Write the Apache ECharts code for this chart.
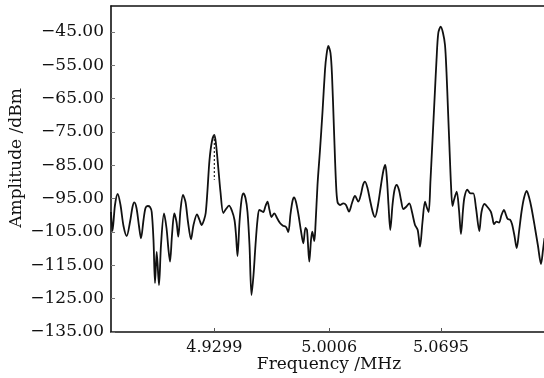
<!DOCTYPE html>
<html>
<head>
<meta charset="utf-8">
<script src="https://cdn.jsdelivr.net/npm/echarts@6/dist/echarts.min.js"></script>
<style>
html,body{margin:0;padding:0;background:#fff;}
#chart{width:544px;height:378px;}
</style>
</head>
<body>
<div id="chart"></div>
<script>
// Frequency (MHz) and amplitude (dBm)
var freq = [4.86626,4.86718,4.86872,4.87039,4.87211,4.87396,4.87593,4.87796,4.87950,4.88061,
4.88196,4.88350,4.88474,4.88628,4.88751,4.88886,4.89028,4.89133,4.89243,4.89336,
4.89440,4.89582,4.89705,4.89890,4.90044,4.90167,4.90260,4.90383,4.90524,4.90660,
4.90771,4.90906,4.91060,4.91214,4.91368,4.91553,4.91707,4.91922,4.92076,4.92212,
4.92353,4.92458,4.92569,4.92692,4.92846,4.92990,4.93092,4.93234,4.93369,4.93542,
4.93708,4.93893,4.94078,4.94232,4.94324,4.94416,4.94540,4.94663,4.94774,4.94909,
4.95032,4.95155,4.95279,4.95402,4.95525,4.95648,4.95759,4.95894,4.96005,4.96141,
4.96264,4.96387,4.96510,4.96683,4.96849,4.97034,4.97218,4.97403,4.97545,4.97680,
4.97804,4.97896,4.98019,4.98173,4.98327,4.98469,4.98604,4.98697,4.98838,4.98943,
4.99023,4.99146,4.99220,4.99343,4.99497,4.99651,4.99805,4.99897,5.00008,5.00144,
5.00236,5.00359,5.00482,5.00575,5.00729,5.00932,5.01098,5.01283,5.01468,5.01653,
5.01856,5.02022,5.02145,5.02268,5.02422,5.02576,5.02761,5.02884,5.03069,5.03254,
5.03408,5.03519,5.03623,5.03716,5.03826,5.03962,5.04085,5.04221,5.04362,5.04485,
5.04627,5.04793,5.04997,5.05163,5.05348,5.05514,5.05656,5.05809,5.05963,5.06087,
5.06191,5.06302,5.06395,5.06487,5.06579,5.06672,5.06782,5.06930,5.07072,5.07195,
5.07287,5.07380,5.07472,5.07565,5.07657,5.07749,5.07916,5.08057,5.08180,5.08304,
5.08396,5.08568,5.08766,5.08938,5.09104,5.09307,5.09443,5.09628,5.09812,5.10016,
5.10120,5.10213,5.10367,5.10521,5.10675,5.10829,5.10952,5.11056,5.11198,5.11321,
5.11475,5.11611,5.11752,5.11906,5.12060,5.12227,5.12368,5.12522,5.12738,5.12922,
5.13107,5.13230,5.13323];
var amplitude = [-99.0,-104.7,-96.9,-93.6,-96.9,-103.2,-106.2,-102.0,-97.5,-96.1,
-97.8,-103.2,-106.9,-101.4,-97.8,-97.2,-97.5,-99.0,-107.4,-120.3,
-111.0,-120.9,-108.9,-99.4,-103.8,-110.4,-113.9,-105.9,-99.4,-102.0,
-106.4,-98.4,-93.9,-96.0,-102.0,-107.2,-102.9,-99.7,-101.4,-102.9,
-101.4,-99.3,-92.4,-83.4,-77.7,-75.9,-78.6,-85.8,-93.0,-99.3,
-98.1,-97.1,-98.7,-101.4,-105.9,-112.2,-102.0,-95.4,-93.4,-94.8,
-99.0,-108.9,-123.9,-117.9,-108.9,-101.4,-98.4,-98.7,-99.0,-97.2,
-95.9,-98.4,-100.5,-99.4,-100.8,-102.3,-103.1,-103.5,-105.0,-99.6,
-95.7,-94.6,-96.0,-99.9,-104.7,-108.4,-103.8,-104.4,-113.9,-107.4,
-104.9,-107.7,-102.9,-90.9,-80.4,-69.0,-56.4,-51.9,-49.2,-51.3,
-57.9,-74.4,-90.3,-96.0,-96.9,-96.4,-96.9,-98.9,-96.3,-94.2,
-95.9,-93.6,-90.9,-89.9,-91.8,-95.4,-99.3,-100.5,-96.9,-90.9,
-86.4,-84.9,-89.4,-96.9,-104.4,-96.9,-92.4,-90.9,-92.4,-95.4,
-98.1,-97.5,-96.4,-99.0,-102.9,-104.4,-109.4,-102.0,-95.9,-97.8,
-99.0,-89.4,-80.4,-71.4,-62.4,-53.4,-45.3,-43.4,-45.3,-48.9,
-57.0,-68.4,-79.8,-90.9,-97.2,-95.4,-92.9,-98.4,-105.6,-98.4,
-94.5,-92.3,-93.4,-93.4,-97.8,-104.7,-99.0,-96.6,-97.5,-98.9,
-100.8,-102.6,-101.9,-102.2,-99.9,-98.4,-99.9,-101.1,-101.3,-102.6,
-106.2,-109.8,-105.0,-99.0,-94.8,-92.7,-94.5,-97.8,-103.8,-109.2,
-114.6,-110.4,-106.8];
// dashed marker under the first peak
var markerFreq = [4.9299, 4.9299];
var markerAmp = [-75.9, -89.3];
// tick labels
var xTicks = [4.9299, 5.0006, 5.0695];
var yTicks = [-135, -125, -115, -105, -95, -85, -75, -65, -55, -45];
var xMin = 4.86626, xMax = 5.13292;
var yMin = -135, yMax = -37.2;

var FONT = 'DejaVu Serif';
var lineData = freq.map(function (f, i) { return [f, amplitude[i]]; });
var markerData = markerFreq.map(function (f, i) { return [f, markerAmp[i]]; });

var chart = echarts.init(document.getElementById('chart'), null, {renderer: 'canvas'});
chart.setOption({
  animation: false,
  backgroundColor: '#ffffff',
  grid: {left: 111, right: 0, top: 6, bottom: 46, show: false},
  xAxis: [{
    type: 'value', min: xMin, max: xMax, position: 'bottom',
    axisLine: {show: true, onZero: false, lineStyle: {color: '#111', width: 1.6}},
    axisTick: {show: true, inside: true, length: 4, customValues: xTicks, lineStyle: {color: '#555', width: 1}},
    axisLabel: {show: true, customValues: xTicks, margin: 8, color: '#111', fontFamily: FONT, fontSize: 16,
      formatter: function (v) { return v.toFixed(4); }},
    splitLine: {show: false}
  }, {
    type: 'value', min: xMin, max: xMax, position: 'top',
    axisLine: {show: true, onZero: false, lineStyle: {color: '#111', width: 1.6}},
    axisTick: {show: false}, axisLabel: {show: false}, splitLine: {show: false}
  }],
  yAxis: {
    type: 'value', min: yMin, max: yMax,
    axisLine: {show: true, onZero: false, lineStyle: {color: '#111', width: 1.6}},
    axisTick: {show: true, inside: true, length: 4, customValues: yTicks, lineStyle: {color: '#777', width: 1}},
    axisLabel: {show: true, customValues: yTicks, margin: 7, color: '#111', fontFamily: FONT, fontSize: 17,
      formatter: function (v) { return (v < 0 ? '\u2212' : '') + Math.abs(v).toFixed(2); }},
    splitLine: {show: false}
  },
  graphic: [
    {type: 'text', x: 329, y: 365,
      style: {text: 'Frequency /MHz', font: '17px "DejaVu Serif"', fill: '#111', align: 'center', verticalAlign: 'middle'}},
    {type: 'text', rotation: Math.PI / 2, x: 17, y: 158,
      style: {text: 'Amplitude /dBm', font: '17px "DejaVu Serif"', fill: '#111', align: 'center', verticalAlign: 'middle'}}
  ],
  series: [{
    type: 'line', data: lineData, showSymbol: false, smooth: 0.3,
    lineStyle: {color: '#111', width: 1.8}, clip: true, z: 3
  }, {
    type: 'line', data: markerData, showSymbol: false,
    lineStyle: {color: '#222', width: 1.2, type: [2, 2]}, z: 4
  }]
});
</script>
</body>
</html>
